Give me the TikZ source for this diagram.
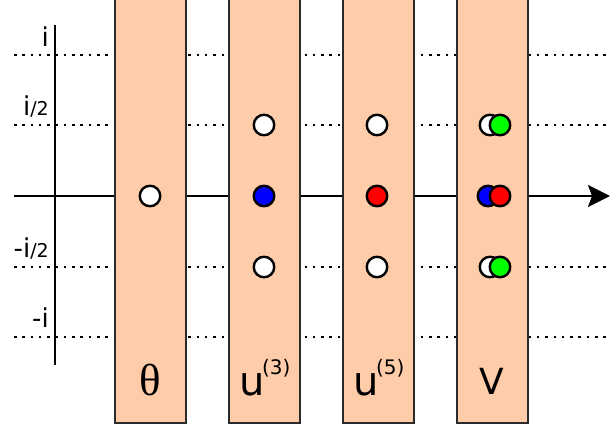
\documentclass[tikz,border=0pt]{standalone}
\usepackage{fontspec}
\setmainfont{DejaVu Sans}
\newfontfamily\greekserif{Liberation Serif}
\usetikzlibrary{arrows.meta}
\definecolor{peach}{HTML}{FFCCAA}
\definecolor{bandedge}{HTML}{2A2A2A}
\begin{document}
\begin{tikzpicture}[x=1pt,y=-1pt,
  guide/.style={line width=2.5pt, dash pattern=on 2.5pt off 5.8pt},
  axisline/.style={line width=2.6pt},
  band/.style={fill=peach, draw=bandedge, line width=1.1pt},
  spot/.style={circle, draw=black, line width=2.4pt, minimum size=20.5pt, inner sep=0pt},
  levellabel/.style={anchor=base east, inner sep=0pt, font=\fontsize{26}{26}\selectfont},
  bandlabel/.style={inner sep=0pt, font=\fontsize{40}{40}\selectfont}
]
\useasboundingbox (0,0) rectangle (610,429);
\clip (0,0) rectangle (610,429);

% horizontal level guides
\foreach \y in {55,125,267,337}
  \draw[guide] (14,\y) -- (610,\y);

% axes
\coordinate (ytop) at (55,25);
\coordinate (ybot) at (55,365);
\coordinate (xleft) at (14,196);
\coordinate (xright) at (610,196);
\draw[axisline] (ytop) -- (ybot);
\draw[axisline, -{Stealth[length=22pt,width=22pt,inset=4pt]}] (xleft) -- (xright);

% level labels
\newcommand{\halfsz}{\fontsize{19}{19}\selectfont}
\node[levellabel] (li)  at (49,46)  {i};
\node[levellabel] (lh)  at (49,115) {i{\halfsz/2}};
\node[levellabel] (lmh) at (49,257) {-i{\halfsz/2}};
\node[levellabel] (lm)  at (49,327) {-i};

% vertical bands
\draw[band] (115,-5) rectangle (186,423);
\draw[band] (229,-5) rectangle (300,423);
\draw[band] (343,-5) rectangle (414,423);
\draw[band] (457,-5) rectangle (528,423);

% points in each band
\node[spot, fill=white] (th0) at (150,196) {};

\node[spot, fill=white] (a1) at (264,125) {};
\node[spot, fill=blue]  (a0) at (264,196) {};
\node[spot, fill=white] (a2) at (264,267) {};

\node[spot, fill=white] (b1) at (377,125) {};
\node[spot, fill=red]   (b0) at (377,196) {};
\node[spot, fill=white] (b2) at (377,267) {};

\node[spot, fill=white] (v1w) at (490,125) {};
\node[spot, fill=green] (v1g) at (500,125) {};
\node[spot, fill=blue]  (v0b) at (488,196) {};
\node[spot, fill=red]   (v0r) at (500,196) {};
\node[spot, fill=white] (v2w) at (490,267) {};
\node[spot, fill=green] (v2g) at (500,267) {};

% band names
\newcommand{\supsz}{\fontsize{20}{20}\selectfont}
\node[bandlabel, anchor=base, font=\greekserif\fontsize{45}{45}\selectfont] (nth) at (150,395) {θ};
\node[bandlabel, anchor=base west] (nu3) at (239.5,395) {u\kern-3pt\raisebox{21pt}{\supsz(3)}};
\node[bandlabel, anchor=base west] (nu5) at (353.5,395) {u\kern-3pt\raisebox{21pt}{\supsz(5)}};
\node[bandlabel, anchor=base, font=\fontsize{36}{36}\selectfont] (nv) at (492,394) {V};
\end{tikzpicture}
\end{document}
